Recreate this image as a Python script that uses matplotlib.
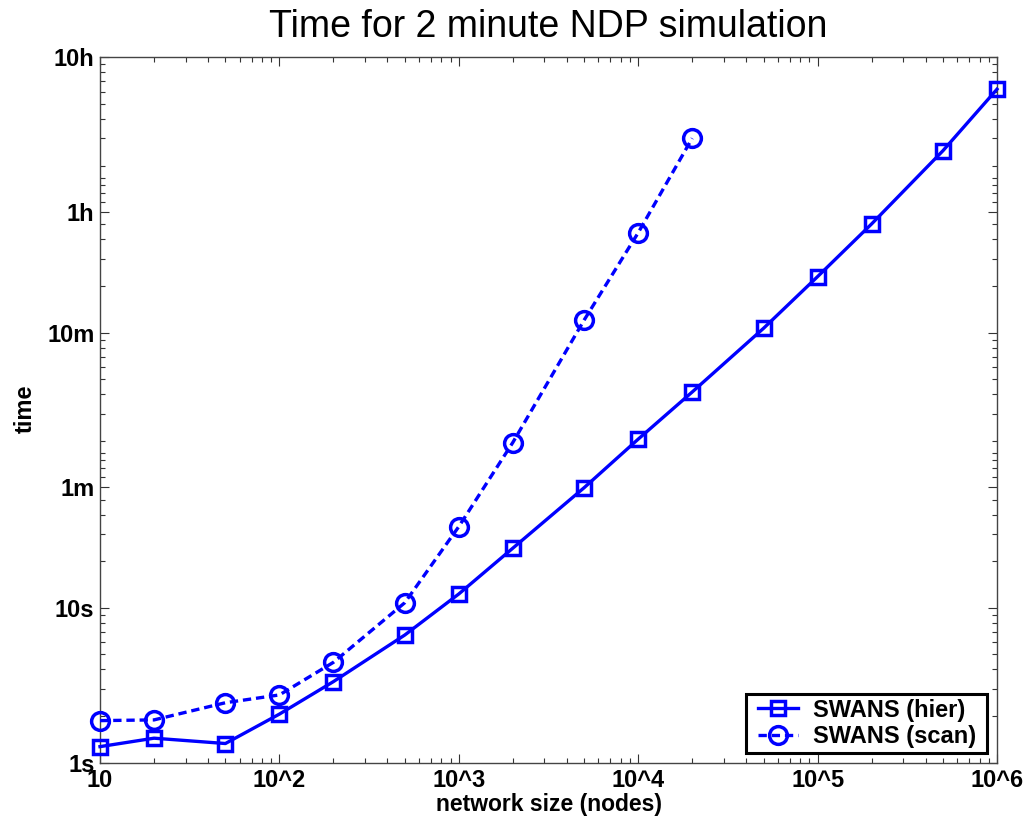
import matplotlib
matplotlib.use("Agg")
import matplotlib.pyplot as plt
from matplotlib.ticker import FixedLocator, NullFormatter
from matplotlib.legend_handler import HandlerLine2D

# network sizes (nodes)
nodes_hier = [10, 20, 50, 100, 200, 500, 1000, 2000, 5000, 1e4, 2e4, 5e4, 1e5, 2e5, 5e5, 1e6]
nodes_scan = [10, 20, 50, 100, 200, 500, 1000, 2000, 5000, 1e4, 2e4]

# run time in seconds
time_hier = [1.27, 1.44, 1.33, 2.06, 3.34, 6.68, 12.3, 24.3, 59.8, 123, 248,
             640, 1380, 3020, 8980, 22400]
time_scan = [1.87, 1.89, 2.44, 2.74, 4.45, 10.8, 33.5, 117, 724, 2650, 10800]

x_ticks = [10, 1e2, 1e3, 1e4, 1e5, 1e6]
x_labels = ["10", "10^2", "10^3", "10^4", "10^5", "10^6"]
y_ticks = [1, 10, 60, 600, 3600, 36000]
y_labels = ["1s", "10s", "1m", "10m", "1h", "10h"]
# minor ticks: seconds, minutes, hours
y_minor = ([2, 3, 4, 5, 6, 7, 8, 9, 20, 30, 40, 50, 70, 80, 90, 100]
           + [m * 60 for m in (2, 3, 4, 5, 6, 7, 8, 9, 20, 30, 40, 50, 70, 80, 90, 100)]
           + [h * 3600 for h in (2, 3, 4, 5, 6, 7, 8, 9)])

plt.rcParams['font.family'] = ['Liberation Sans', 'DejaVu Sans']
plt.rcParams['lines.scale_dashes'] = False

W, H = 1027, 823
fig = plt.figure(figsize=(W / 100, H / 100), dpi=100)
ax = fig.add_axes([100 / W, (H - 762.7) / H, 897 / W, 705.4 / H])

blue = '#0000ff'
ax.plot(nodes_hier, time_hier, color=blue, lw=2.4, marker='s', ms=9.8,
        mfc='none', mec=blue, mew=2.5, clip_on=False, label='SWANS (hier) ', zorder=3)
ax.plot(nodes_scan, time_scan, color=blue, lw=2.4, dashes=(6, 3.5), marker='o', ms=12.8,
        mfc='none', mec=blue, mew=2.5, clip_on=False, label='SWANS (scan) ', zorder=3)

ax.set_xscale('log')
ax.set_yscale('log')
ax.set_xlim(10, 1e6)
ax.set_ylim(1, 36000)

ax.set_xticks(x_ticks)
ax.set_xticklabels(x_labels)
ax.set_yticks(y_ticks)
ax.set_yticklabels(y_labels)
ax.yaxis.set_minor_locator(FixedLocator(y_minor))
ax.yaxis.set_minor_formatter(NullFormatter())
ax.xaxis.set_minor_formatter(NullFormatter())

ax.tick_params(which='both', direction='in', top=True, right=True, color='#333333', width=0.8)
ax.tick_params(which='major', length=6.5, labelsize=17)
ax.tick_params(which='minor', length=3.5)
ax.tick_params(axis='x', which='major', pad=4.5)
ax.tick_params(axis='y', which='major', pad=4)
for lab in ax.get_xticklabels() + ax.get_yticklabels():
    lab.set_fontweight('bold')
for sp in ax.spines.values():
    sp.set_color('#444444')
    sp.set_linewidth(1.0)

fig.text(548.5 / W, 1 - 36.7 / H, 'Time for 2 minute NDP simulation',
         ha='center', va='baseline', fontsize=27)
fig.text(548.7 / W, 1 - 811 / H, 'network size (nodes)', ha='center', va='baseline',
         fontsize=16.5, fontweight='bold')
fig.text(25 / W, 1 - 409 / H, 'time', rotation=90, ha='center', va='center',
         fontsize=17, fontweight='bold')

hmap = {ln: HandlerLine2D(xpad=0.3) for ln in ax.get_lines()}
leg = ax.legend(loc='lower right', bbox_to_anchor=(987 / W, (H - 753) / H),
                bbox_transform=fig.transFigure, prop={'weight': 'bold', 'size': 17},
                fancybox=False, framealpha=1, edgecolor='black', handlelength=2.0,
                handletextpad=0.6, labelspacing=0.15, borderpad=0.2, borderaxespad=0,
                handler_map=hmap)
leg.get_frame().set_linewidth(2.2)

fig.savefig('out.png', dpi=100)
